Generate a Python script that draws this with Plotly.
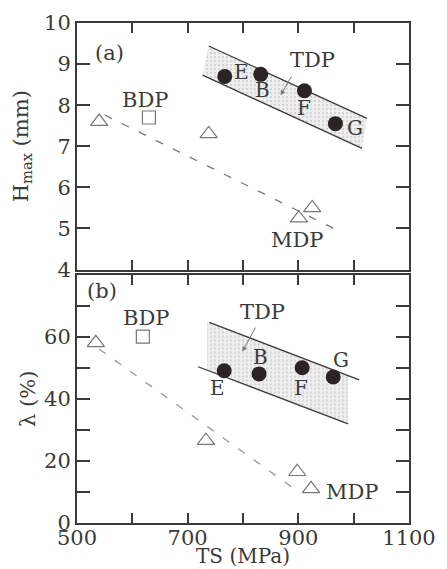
import plotly.graph_objects as go

# ---- Panel (a): H_max vs TS ----
mdp_ts_a = [540, 738, 901, 925]
mdp_h = [7.6, 7.3, 5.25, 5.5]
bdp_ts_a = [630]
bdp_h = [7.7]
tdp_ts_a = [767, 832, 911, 967]
tdp_h = [8.7, 8.75, 8.35, 7.55]
tdp_names = ["E", "B", "F", "G"]

mdp_line_a_x = [550, 967]
mdp_line_a_y = [7.76, 4.98]
band_a_up_x = [738, 1024]
band_a_up_y = [9.44, 7.68]
band_a_lo_x = [727, 1015]
band_a_lo_y = [8.73, 6.95]

# ---- Panel (b): lambda vs TS ----
mdp_ts_b = [534, 733, 898, 923]
mdp_lam = [58, 26.5, 16.5, 11]
bdp_ts_b = [619]
bdp_lam = [60]
tdp_ts_b = [766, 829, 907, 963]
tdp_lam = [49, 48, 50, 47]

mdp_line_b_x = [540, 889]
mdp_line_b_y = [56, 11.5]
band_b_up_x = [739, 1010]
band_b_up_y = [64.6, 46.1]
band_b_lo_x = [719, 990]
band_b_lo_y = [50.3, 31.9]
band_b_shade_x = [735, 990, 990, 735]
band_b_shade_y = [64.9, 47.4, 31.9, 49.3]

x_ticks = [500, 600, 700, 800, 900, 1000, 1100]
x_labels = ["500", "", "700", "", "900", "", "1100"]
ya_ticks = [4, 5, 6, 7, 8, 9, 10]
yb_ticks = [0, 10, 20, 30, 40, 50, 60, 70, 80]
yb_labels = ["0", "", "20", "", "40", "", "60", "", ""]

FONT = "DejaVu Serif"
INK = "#3a3a3a"
GRAY = "#777777"
FS = 21

fig = go.Figure()

# shaded band (a)
fig.add_trace(go.Scatter(
    x=band_a_up_x + band_a_lo_x[::-1], y=band_a_up_y + band_a_lo_y[::-1],
    fill="toself", mode="none", fillcolor="rgba(225,225,225,0.9)",
    fillpattern=dict(shape=".", fgcolor="#b8b8b8", bgcolor="#efefef", size=4, solidity=0.25),
    xaxis="x", yaxis="y", showlegend=False, hoverinfo="skip"))
for xs, ys in [(band_a_up_x, band_a_up_y), (band_a_lo_x, band_a_lo_y)]:
    fig.add_trace(go.Scatter(x=xs, y=ys, mode="lines", line=dict(color=INK, width=1.3),
                             xaxis="x", yaxis="y", showlegend=False))
fig.add_trace(go.Scatter(x=mdp_line_a_x, y=mdp_line_a_y, mode="lines",
                         line=dict(color=GRAY, width=1.3, dash="8px,11px"),
                         xaxis="x", yaxis="y", showlegend=False))
fig.add_trace(go.Scatter(x=mdp_ts_a, y=mdp_h, mode="markers",
                         marker=dict(symbol="triangle-up-open", size=15, color=GRAY, line=dict(width=1.2)),
                         xaxis="x", yaxis="y", showlegend=False))
fig.add_trace(go.Scatter(x=bdp_ts_a, y=bdp_h, mode="markers",
                         marker=dict(symbol="square-open", size=13, color=GRAY, line=dict(width=1.2)),
                         xaxis="x", yaxis="y", showlegend=False))
fig.add_trace(go.Scatter(x=tdp_ts_a, y=tdp_h, mode="markers",
                         marker=dict(symbol="circle", size=15, color="#2a2424"),
                         xaxis="x", yaxis="y", showlegend=False))

# shaded band (b)
fig.add_trace(go.Scatter(
    x=band_b_shade_x, y=band_b_shade_y,
    fill="toself", mode="none", fillcolor="rgba(225,225,225,0.9)",
    fillpattern=dict(shape=".", fgcolor="#b8b8b8", bgcolor="#efefef", size=4, solidity=0.25),
    xaxis="x2", yaxis="y2", showlegend=False, hoverinfo="skip"))
for xs, ys in [(band_b_up_x, band_b_up_y), (band_b_lo_x, band_b_lo_y)]:
    fig.add_trace(go.Scatter(x=xs, y=ys, mode="lines", line=dict(color=INK, width=1.3),
                             xaxis="x2", yaxis="y2", showlegend=False))
fig.add_trace(go.Scatter(x=mdp_line_b_x, y=mdp_line_b_y, mode="lines",
                         line=dict(color="#999999", width=1.3, dash="8px,11px"),
                         xaxis="x2", yaxis="y2", showlegend=False))
fig.add_trace(go.Scatter(x=mdp_ts_b, y=mdp_lam, mode="markers",
                         marker=dict(symbol="triangle-up-open", size=15, color=GRAY, line=dict(width=1.2)),
                         xaxis="x2", yaxis="y2", showlegend=False))
fig.add_trace(go.Scatter(x=bdp_ts_b, y=bdp_lam, mode="markers",
                         marker=dict(symbol="square-open", size=13, color=GRAY, line=dict(width=1.2)),
                         xaxis="x2", yaxis="y2", showlegend=False))
fig.add_trace(go.Scatter(x=tdp_ts_b, y=tdp_lam, mode="markers",
                         marker=dict(symbol="circle", size=15, color="#2a2424"),
                         xaxis="x2", yaxis="y2", showlegend=False))

def txt(x, y, s, ax="x", ay="y", size=FS):
    return dict(x=x, y=y, text=s, xref=ax, yref=ay, showarrow=False,
                font=dict(family=FONT, size=size, color=INK))

ann = [
    txt(559, 9.27, "(a)"),
    txt(622, 8.12, "BDP"),
    txt(925, 9.1, "TDP"),
    txt(898, 4.73, "MDP"),
    txt(797, 8.8, "E", size=20), txt(835, 8.37, "B", size=20),
    txt(911, 7.93, "F", size=20), txt(1002, 7.44, "G", size=20),
    dict(x=868, y=8.24, ax=889, ay=8.73, xref="x", yref="y", axref="x", ayref="y",
         showarrow=True, arrowhead=2, arrowsize=1, arrowwidth=1, arrowcolor=GRAY, text=""),
    txt(545, 74.6, "(b)", "x2", "y2"),
    txt(625, 66, "BDP", "x2", "y2"),
    txt(836, 67.8, "TDP", "x2", "y2"),
    txt(997, 10, "MDP", "x2", "y2"),
    txt(832, 53.5, "B", "x2", "y2", 20), txt(977, 52.6, "G", "x2", "y2", 20),
    txt(754, 43.5, "E", "x2", "y2", 20), txt(905, 43.5, "F", "x2", "y2", 20),
    dict(x=799, y=55.2, ax=824, ay=63.4, xref="x2", yref="y2", axref="x2", ayref="y2",
         showarrow=True, arrowhead=2, arrowsize=1, arrowwidth=1, arrowcolor=GRAY, text=""),
    dict(x=0.5, y=-0.066, xref="paper", yref="paper", text="TS (MPa)", showarrow=False,
         xanchor="center", yanchor="middle", font=dict(family=FONT, size=20, color=INK)),
]

axis_common = dict(showline=True, linewidth=2, linecolor=INK, mirror="allticks",
                   ticks="inside", tickcolor=INK, tickwidth=1.5, showgrid=False, zeroline=False,
                   automargin=False,
                   tickfont=dict(family=FONT, size=FS, color=INK))

fig.update_layout(
    width=447, height=569,
    margin=dict(l=77, r=38, t=23, b=46),
    paper_bgcolor="white", plot_bgcolor="white",
    xaxis=dict(range=[500, 1100], domain=[0, 1], anchor="y", tickvals=x_ticks,
               showticklabels=False, ticklen=10, **axis_common),
    yaxis=dict(range=[4, 10], domain=[0.507, 1], anchor="x", tickvals=ya_ticks, ticklen=13,
               ticklabelstandoff=0,
               title=dict(text="H<sub>max</sub> (mm)", font=dict(family=FONT, size=FS, color=INK), standoff=10),
               **axis_common),
    xaxis2=dict(range=[500, 1100], domain=[0, 1], anchor="y2", tickvals=x_ticks, ticktext=x_labels,
                ticklen=10, ticklabelstandoff=-5,
                **axis_common),
    yaxis2=dict(range=[0, 80], domain=[0, 0.497], anchor="x2", tickvals=yb_ticks, ticktext=yb_labels,
                ticklen=13, ticklabelstandoff=0,
                title=dict(text="λ (%)", font=dict(family=FONT, size=FS, color=INK), standoff=3),
                **axis_common),
    annotations=ann,
)

fig.write_html("out.html")
